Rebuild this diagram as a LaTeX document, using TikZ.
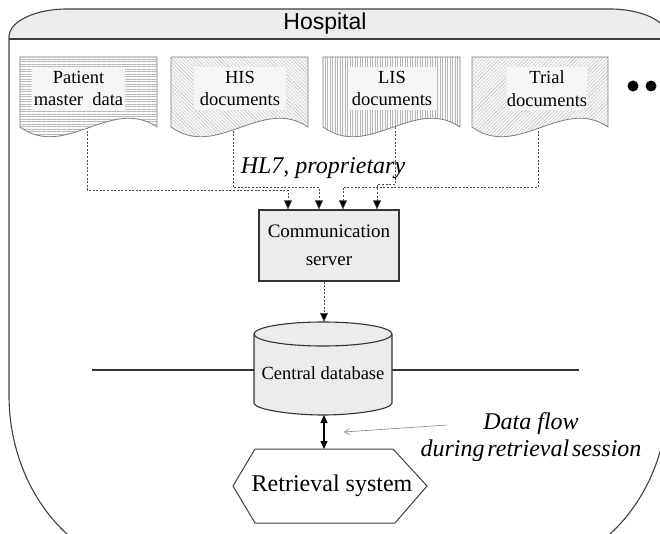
\documentclass[tikz,border=0pt]{standalone}
\usepackage{fontspec}
\setmainfont{Liberation Serif}
\newfontfamily\headsans{Liberation Sans}
\usetikzlibrary{arrows.meta,patterns.meta}

\begin{document}
\begin{tikzpicture}[x=1pt,y=-1pt,
  frameline/.style={draw=black!75,line width=1.1pt},
  docbody/.style={draw=black!50,line width=0.8pt,preaction={fill=gray!5},
    pattern={Lines[angle=#1,distance=2.5pt,line width=0.4pt]},pattern color=black!28},
  docbox/.style={fill=gray!7,inner sep=0pt,minimum height=43pt,align=center,
    font=\fontsize{18.5}{22.5}\selectfont},
  dataline/.style={draw=black!70,line width=0.6pt,dash pattern=on 2pt off 1.6pt},
  feed/.style={dataline,-{Triangle[length=9pt,width=8pt,fill=black]}},
  solidbox/.style={draw=black!80,line width=1.1pt,fill=gray!15},
  link/.style={draw=black,line width=1.2pt,{Triangle[length=8pt,width=7pt]}-{Triangle[length=8pt,width=7pt]}},
  pointer/.style={draw=black!50,line width=0.6pt,-{Straight Barb[length=5pt,width=6pt]}},
  notetext/.style={font=\itshape\fontsize{24}{27}\selectfont,align=center}
]
\useasboundingbox (0,0) rectangle (660,534);
\clip (0,0) rectangle (660,534);

% ---- hospital frame with header band ----
\fill[gray!15] (9,39) -- (9,37) .. controls (9,21.5) and (35,9) .. (67,9)
  -- (610,9) .. controls (642,9) and (668,21.5) .. (668,37) -- (668,39) -- cycle;
\draw[frameline] (9,395) -- (9,37) .. controls (9,21.5) and (35,9) .. (67,9)
  -- (610,9) .. controls (642,9) and (668,21.5) .. (668,37)
  -- (668,395) .. controls (668,492) and (601,571) .. (518,571)
  -- (159,571) .. controls (76,571) and (9,492) .. (9,395);
\draw[frameline] (9,39) -- (668,39);
\node[font=\headsans\fontsize{23}{26}\selectfont] (hospital) at (325,24) {Hospital};

% ---- feeds from the source documents into the communication server ----
\coordinate (d1) at (87,120);
\coordinate (d2) at (233,120);
\coordinate (d3) at (395,120);
\coordinate (d4) at (538,120);
\node[solidbox,minimum width=140pt,minimum height=71pt,inner sep=0pt,align=center,
  font=\fontsize{19}{28}\selectfont] (server) at (329,245.5) {Communication\\server};
\draw[feed] (d1) -- (87,190) -| ([xshift=-41pt]server.north);
\draw[feed] (d2) -- (233,187.5) -| ([xshift=-10pt]server.north);
\draw[feed] (d4) -- (538,187) -| ([xshift=14pt]server.north);
\draw[feed] (d3) -- (395,184.5) -| ([xshift=48pt]server.north);

% ---- source documents ----
\path[docbody=0] (20,57) -- (157,57) -- (157,127)
  .. controls (111.3,96) and (65.7,160) .. (20,127) -- cycle;
\path[docbody=-45] (171,57) -- (308,57) -- (308,127)
  .. controls (262.3,96) and (216.7,160) .. (171,127) -- cycle;
\path[docbody=90] (323,57) -- (460,57) -- (460,127)
  .. controls (414.3,96) and (368.7,160) .. (323,127) -- cycle;
\path[docbody=45] (472,57) -- (608,57) -- (608,127)
  .. controls (562.7,96) and (517.3,160) .. (472,127) -- cycle;
\node[docbox,minimum width=93pt] (pmd) at (78.5,88.5) {Patient\\master\ \ data};
\node[docbox,minimum width=92pt] (his) at (240,88.5) {HIS\\documents};
\node[docbox,minimum width=87pt] (lis) at (392,88.5) {LIS\\documents};
\node[docbox,minimum width=80pt] (trial) at (547,88.5) {Trial\\documents};
\fill (633,86) circle[radius=5.5];
\fill (651,86) circle[radius=5.5];

\node[notetext] (hl7) at (323,168) {HL7, proprietary};

% ---- central database on the network line ----
\coordinate (netL) at (92,370);
\coordinate (netR) at (579,370);
\draw[draw=black!80,line width=1.3pt] (netL) -- (netR);
\fill[gray!15] (254,334) -- (254,403) .. controls (254,409.6) and (292.1,415) .. (323,415)
  .. controls (353.9,415) and (392,409.6) .. (392,403) -- (392,334) -- cycle;
\draw[draw=black!80,line width=1.1pt] (254,334) -- (254,403)
  .. controls (254,409.6) and (292.1,415) .. (323,415)
  .. controls (353.9,415) and (392,409.6) .. (392,403) -- (392,334);
\draw[draw=black!80,line width=1.1pt,fill=gray!15] (323,334) ellipse[x radius=69,y radius=12];
\node[font=\fontsize{18.5}{22}\selectfont] (db) at (323,373) {Central database};
\coordinate (dbtop) at (324,322);
\coordinate (dbbot) at (324,415);
\draw[feed] ([xshift=-5pt]server.south) -- (dbtop);

% ---- retrieval system ----
\draw[draw=black!75,line width=1pt,fill=white] (233,486) -- (255,449) -- (393,449)
  -- (427,486) -- (395,523) -- (255,523) -- cycle;
\node[font=\fontsize{24}{28}\selectfont] (rs) at (332,486) {Retrieval system};
\coordinate (rstop) at (324,449);
\draw[link] (dbbot) -- (rstop);

% ---- annotation ----
\node[notetext] (note) at (531,437) {Data flow\\{\spaceskip=0.12em during retrieval session}};
\coordinate (noteptr) at (447,425);
\coordinate (linkmark) at (344,432);
\draw[pointer] (noteptr) -- (linkmark);
\end{tikzpicture}
\end{document}
